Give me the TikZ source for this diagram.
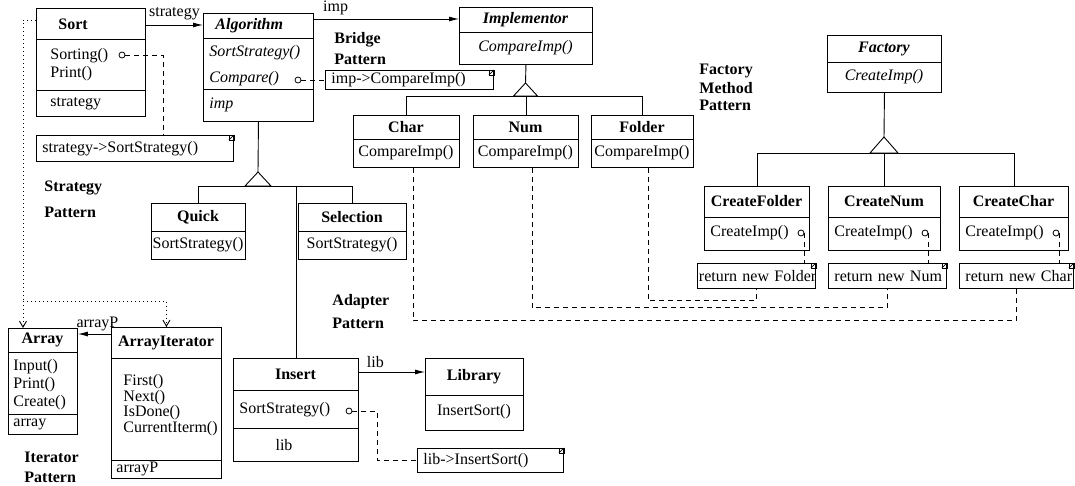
\documentclass[tikz,border=0pt]{standalone}
\usepackage{fontspec}
\setmainfont{Liberation Serif}
\usetikzlibrary{arrows.meta}

\tikzset{
  cls/.style={draw, line width=0.9pt, anchor=north west, inner sep=0pt},
  memo/.style={draw, line width=0.9pt, anchor=north west, inner ysep=0pt, align=left,
    font=\fontsize{16}{19}\selectfont},
  txt/.style={inner sep=0pt, font=\fontsize{16}{19}\selectfont},
  ttl/.style={inner sep=0pt, font=\fontsize{16}{19}\selectfont\bfseries},
  abs/.style={inner sep=0pt, font=\fontsize{16}{19}\selectfont\itshape},
  absttl/.style={inner sep=0pt, font=\fontsize{16}{19}\selectfont\bfseries\itshape},
  dotpin/.style={circle, draw, line width=0.8pt, minimum size=6pt, inner sep=0pt},
  dep/.style={line width=0.9pt, dash pattern=on 5pt off 4pt},
  dotline/.style={line width=0.9pt, dash pattern=on 1.2pt off 2.8pt},
  nav/.style={dotline, -{Straight Barb[length=6pt,width=7pt]}},
  assoc/.style={line width=0.9pt, -{Latex[length=10pt,width=5pt]}},
}

\begin{document}
\begin{tikzpicture}[x=1pt, y=-1pt, line width=0.9pt]
\useasboundingbox (0,0) rectangle (1075,485);

% strategy pattern
\node[cls, minimum width=109pt, minimum height=108pt] (sort) at (36,8) {};
\draw (sort.west |- 0,39) -- (sort.east |- 0,39);
\draw (sort.west |- 0,90) -- (sort.east |- 0,90);
\node[ttl, anchor=west] (sortT) at (58,24) {Sort};
\node[txt, anchor=west] (sortM1) at (50,56) {Sorting()};
\node[txt, anchor=west] (sortM2) at (50,74) {Print()};
\node[txt, anchor=west] (sortA) at (50,104) {strategy};
\node[dotpin] (sortPin) at (122,55) {};

\node[cls, minimum width=110pt, minimum height=108pt] (algorithm) at (203,13) {};
\draw (algorithm.west |- 0,38) -- (algorithm.east |- 0,38);
\draw (algorithm.west |- 0,89) -- (algorithm.east |- 0,89);
\node[absttl, anchor=west] (algT) at (215,26) {Algorithm};
\node[abs, anchor=west] (algM1) at (209,53) {SortStrategy()};
\node[abs, anchor=west] (algM2) at (209,79) {Compare()};
\node[abs, anchor=west] (algA) at (209,105) {imp};
\node[dotpin] (algPin) at (298,80) {};

\draw[assoc] (sort.east |- 0,25) -- node[txt, above=5pt] (stratL) {strategy} (algorithm.west |- 0,25);

\node[memo, inner xsep=6pt, text width=185pt, minimum height=26pt] (sortNote) at (36,135) {\mbox{strategy->SortStrategy()}};
\coordinate (sortBend) at (163,55);
\draw[dep] (sortPin.east) -- (sortBend) -- (sortBend |- sortNote.north);

\node[cls, minimum width=94pt, minimum height=56pt] (quick) at (151,203) {};
\draw (quick.west |- 0,231) -- (quick.east |- 0,231);
\node[ttl] (quickT) at (198,217) {Quick};
\node[txt] (quickM) at (198,245) {SortStrategy()};

\node[cls, minimum width=108pt, minimum height=56pt] (selection) at (298,203) {};
\draw (selection.west |- 0,231) -- (selection.east |- 0,231);
\node[ttl] (selT) at (352,217) {Selection};
\node[txt] (selM) at (352,245) {SortStrategy()};

\coordinate (algTip) at (258,172);
\draw (algorithm.south) -- (algTip);
\draw (algTip) -- ++(-13,14) -- ++(26,0) -- cycle;
\draw (quick.north) -- ++(0,-17) -| (selection.north);

\node[ttl, anchor=west] (strategyP1) at (44,188) {Strategy};
\node[ttl, anchor=west] (strategyP2) at (44,212) {Pattern};

% bridge pattern
\node[cls, minimum width=133pt, minimum height=57pt] (implementor) at (459,7) {};
\draw (implementor.west |- 0,32) -- (implementor.east |- 0,32);
\node[absttl] (implT) at (525.5,20) {Implementor};
\node[abs] (implM) at (525.5,48) {CompareImp()};

\draw[assoc] (algorithm.east |- 0,19) -- node[txt, above=4pt, pos=0.15] (impL) {imp} (implementor.west |- 0,19);

\node[memo, inner xsep=6pt, text width=156pt, minimum height=19pt] (bridgeNote) at (325,70) {\mbox{imp->CompareImp()}};
\draw[dep] (algPin.east) -- (algPin.east -| bridgeNote.west);

\node[cls, minimum width=106pt, minimum height=52pt] (char) at (353,115) {};
\draw (char.west |- 0,139) -- (char.east |- 0,139);
\node[ttl] (charT) at (406,127) {Char};
\node[txt] (charM) at (406,153) {CompareImp()};

\node[cls, minimum width=105pt, minimum height=52pt] (num) at (473,115) {};
\draw (num.west |- 0,139) -- (num.east |- 0,139);
\node[ttl] (numT) at (525.5,127) {Num};
\node[txt] (numM) at (525.5,153) {CompareImp()};

\node[cls, minimum width=102pt, minimum height=52pt] (folder) at (591,115) {};
\draw (folder.west |- 0,139) -- (folder.east |- 0,139);
\node[ttl] (folderT) at (642,127) {Folder};
\node[txt] (folderM) at (642,153) {CompareImp()};

\coordinate (implTip) at (525.5,83);
\draw (implementor.south) -- (implTip);
\draw (implTip) -- ++(-12,13) -- ++(24,0) -- cycle;
\draw (char.north) -- ++(0,-19) -| (folder.north);
\draw (num.north) -- ++(0,-19);

\node[ttl, anchor=west] (bridgeP1) at (334,40) {Bridge};
\node[ttl, anchor=west] (bridgeP2) at (334,59) {Pattern};

% factory method pattern
\node[cls, minimum width=114pt, minimum height=57pt] (factory) at (827,35) {};
\draw (factory.west |- 0,62) -- (factory.east |- 0,62);
\node[absttl] (factT) at (884,49) {Factory};
\node[abs] (factM) at (884,77) {CreateImp()};

\node[cls, minimum width=105pt, minimum height=64pt] (cfolder) at (704,186) {};
\draw (cfolder.west |- 0,217) -- (cfolder.east |- 0,217);
\node[ttl] (cfolderT) at (756.5,201) {CreateFolder};
\node[txt, anchor=west] (cfolderM) at (710,233) {CreateImp()};
\node[dotpin] (cfolderPin) at (801,233) {};

\node[cls, minimum width=112pt, minimum height=64pt] (cnum) at (828,186) {};
\draw (cnum.west |- 0,217) -- (cnum.east |- 0,217);
\node[ttl] (cnumT) at (884,201) {CreateNum};
\node[txt, anchor=west] (cnumM) at (834,233) {CreateImp()};
\node[dotpin] (cnumPin) at (925,233) {};

\node[cls, minimum width=109pt, minimum height=64pt] (cchar) at (959,186) {};
\draw (cchar.west |- 0,217) -- (cchar.east |- 0,217);
\node[ttl] (ccharT) at (1013.5,201) {CreateChar};
\node[txt, anchor=west] (ccharM) at (965,233) {CreateImp()};
\node[dotpin] (ccharPin) at (1056,233) {};

\coordinate (factTip) at (884,137);
\draw (factory.south) -- (factTip);
\draw (factTip) -- ++(-14,16) -- ++(28,0) -- cycle;
\draw (cfolder.north) -- ++(0,-33) -| (cchar.north);
\draw (cnum.north) -- ++(0,-33);

\node[memo, inner xsep=1.5pt, text width=115pt, minimum height=25pt] (folderNote) at (697,263) {\mbox{return new Folder}};
\node[memo, inner xsep=6pt, text width=106pt, minimum height=25pt] (numNote) at (828,263) {\mbox{return new Num}};
\node[memo, inner xsep=6pt, text width=102pt, minimum height=25pt] (charNote) at (959,263) {\mbox{return new Char}};
\draw[dep] (cfolderPin.east) -- (cfolderPin.east |- folderNote.north);
\draw[dep] (cnumPin.east) -- (cnumPin.east |- numNote.north);
\draw[dep] (ccharPin.east) -- (ccharPin.east |- charNote.north);

\node[ttl, anchor=west] (factP1) at (699,71) {Factory};
\node[ttl, anchor=west] (factP2) at (699,88) {Method};
\node[ttl, anchor=west] (factP3) at (699,105) {Pattern};

% adapter pattern
\draw[dep] ([xshift=7pt]char.south) -- ++(0,153) -| (charNote.south);
\draw[dep] ([xshift=6pt]num.south) -- ++(0,140) -| (numNote.south);
\draw[dep] ([xshift=6pt]folder.south) -- ++(0,133) -| (folderNote.south);

\node[cls, minimum width=125pt, minimum height=103pt] (insert) at (233,358) {};
\draw (insert.west |- 0,390) -- (insert.east |- 0,390);
\draw (insert.west |- 0,428) -- (insert.east |- 0,428);
\node[ttl] (insertT) at (295.5,374) {Insert};
\node[txt, anchor=west] (insertM) at (239,410) {SortStrategy()};
\node[dotpin] (insertPin) at (349,411) {};
\node[txt] (insertA) at (284,445) {lib};
\draw (insert.north) -- (insert.north |- 0,186);

\node[cls, minimum width=98pt, minimum height=72pt] (library) at (425,358) {};
\draw (library.west |- 0,395) -- (library.east |- 0,395);
\node[ttl] (libT) at (474,377) {Library};
\node[txt] (libM) at (474,412) {InsertSort()};

\draw[assoc] (insert.east |- 0,372) -- node[txt, above=4pt, pos=0.25] (libL) {lib} (library.west |- 0,372);

\node[memo, inner xsep=6pt, text width=134pt, minimum height=24pt] (libNote) at (417,448) {\mbox{lib->InsertSort()}};
\coordinate (libBend) at (377,411);
\draw[dep] (insertPin.east) -- (libBend) |- (libNote.west);

\node[ttl, anchor=west] (adaptP1) at (332,302) {Adapter};
\node[ttl, anchor=west] (adaptP2) at (332,323) {Pattern};

% iterator pattern
\node[cls, minimum width=69pt, minimum height=106pt] (array) at (8,328) {};
\draw (array.west |- 0,352) -- (array.east |- 0,352);
\draw (array.west |- 0,414) -- (array.east |- 0,414);
\node[ttl] (arrayT) at (42.5,340) {Array};
\node[txt, anchor=west] (arrayM1) at (13,367) {Input()};
\node[txt, anchor=west] (arrayM2) at (13,385) {Print()};
\node[txt, anchor=west] (arrayM3) at (13,403) {Create()};
\node[txt, anchor=west] (arrayA) at (13,424) {array};

\node[cls, minimum width=110pt, minimum height=151pt] (arrayIter) at (111,327) {};
\draw (arrayIter.west |- 0,358) -- (arrayIter.east |- 0,358);
\draw (arrayIter.west |- 0,460) -- (arrayIter.east |- 0,460);
\node[ttl] (iterT) at (166,343) {ArrayIterator};
\node[txt, anchor=west] (iterM1) at (123,382) {First()};
\node[txt, anchor=west] (iterM2) at (123,398) {Next()};
\node[txt, anchor=west] (iterM3) at (123,413) {IsDone()};
\node[txt, anchor=west] (iterM4) at (123,429) {CurrentIterm()};
\node[txt, anchor=west] (iterA) at (116,469) {arrayP};

\draw[assoc] (arrayIter.west |- 0,334) -- node[txt, above=3pt, pos=0.41] (arrayPL) {arrayP} (array.east |- 0,334);

\coordinate (dotCorner) at (23,301);
\draw[dotline] (sort.west |- 0,20) -| (dotCorner);
\draw[nav] (dotCorner) -- (dotCorner |- array.north);
\draw[nav] (dotCorner) -| (arrayIter.north);

\node[ttl, anchor=west] (iterP1) at (24,457) {Iterator};
\node[ttl, anchor=west] (iterP2) at (24,477) {Pattern};

% note corners
\foreach \n in {sortNote,bridgeNote,folderNote,numNote,charNote,libNote}{
  \draw[line width=0.7pt] (\n.north east) rectangle ++(-5,5);
  \draw[line width=0.7pt] (\n.north east) -- ++(-5,5);
}
\end{tikzpicture}
\end{document}
